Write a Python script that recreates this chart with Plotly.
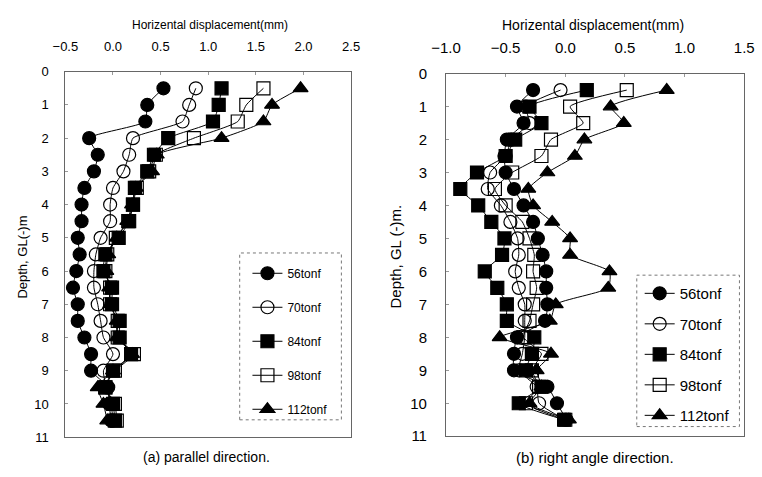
import plotly.graph_objects as go

depth = [0.5, 1.0, 1.5, 2.0, 2.5, 3.0, 3.5, 4.0, 4.5, 5.0, 5.5, 6.0, 6.5, 7.0, 7.5, 8.0, 8.5, 9.0, 9.5, 10.0, 10.5]

series_names = ["56tonf", "70tonf", "84tonf", "98tonf", "112tonf"]

# (a) parallel direction
par_56 = [0.53, 0.36, 0.34, -0.25, -0.16, -0.20, -0.30, -0.33, -0.33, -0.37, -0.35, -0.385, -0.42, -0.37, -0.37, -0.30, -0.23, -0.23, -0.05, -0.04, -0.02]
par_70 = [0.87, 0.80, 0.73, 0.21, 0.17, 0.11, 0.00, -0.03, -0.03, -0.13, -0.18, -0.20, -0.20, -0.16, -0.13, -0.10, 0.00, -0.10, -0.07, -0.02, 0.00]
par_84 = [1.14, 1.11, 1.05, 0.58, 0.43, 0.36, 0.23, 0.21, 0.17, 0.06, -0.08, -0.10, -0.01, -0.01, 0.07, 0.07, 0.19, 0.00, -0.08, 0.00, 0.02]
par_98 = [1.58, 1.40, 1.31, 0.85, 0.45, 0.38, 0.25, 0.21, 0.16, 0.03, -0.06, -0.08, -0.03, -0.03, 0.05, 0.05, 0.22, 0.02, -0.08, 0.02, 0.04]
par_112 = [1.97, 1.67, 1.58, 1.14, 0.46, 0.41, 0.24, 0.20, 0.15, 0.04, -0.05, -0.07, -0.04, -0.03, 0.04, 0.04, 0.20, 0.00, -0.16, -0.10, -0.06]

# (b) right angle direction
rig_56 = [-0.27, -0.405, -0.35, -0.49, -0.51, -0.50, -0.43, -0.35, -0.27, -0.23, -0.19, -0.16, -0.16, -0.15, -0.17, -0.405, -0.43, -0.43, -0.15, -0.07, 0.01]
rig_70 = [-0.04, -0.33, -0.30, -0.45, -0.50, -0.63, -0.65, -0.54, -0.46, -0.40, -0.39, -0.42, -0.39, -0.34, -0.34, -0.34, -0.36, -0.39, -0.24, -0.22, 0.00]
rig_84 = [0.18, -0.30, -0.20, -0.42, -0.50, -0.74, -0.88, -0.73, -0.62, -0.51, -0.53, -0.675, -0.57, -0.49, -0.49, -0.26, -0.28, -0.33, -0.20, -0.39, -0.01]
rig_98 = [0.515, 0.04, 0.15, -0.12, -0.20, -0.445, -0.59, -0.50, -0.36, -0.30, -0.26, -0.27, -0.24, -0.27, -0.30, -0.35, -0.20, -0.28, -0.22, -0.33, 0.00]
rig_112 = [0.85, 0.38, 0.49, 0.16, 0.08, -0.15, -0.31, -0.27, -0.11, 0.04, 0.04, 0.37, 0.36, -0.08, -0.13, -0.55, -0.12, -0.24, -0.20, -0.30, 0.03]

x_ticks_a = [-0.5, 0.0, 0.5, 1.0, 1.5, 2.0, 2.5]
x_ticks_b = [-1.0, -0.5, 0.0, 0.5, 1.0, 1.5]
y_ticks = list(range(0, 12))

par_data = [par_56, par_70, par_84, par_98, par_112]
rig_data = [rig_56, rig_70, rig_84, rig_98, rig_112]
symbols = ["circle", "circle-open", "square", "square-open", "triangle-up"]

FONT = "Liberation Sans, Arial, sans-serif"
W, H = 762, 477

def px(x):
    return x / W

def py(y):
    return 1 - y / H

fig = go.Figure()

for i, name in enumerate(series_names):
    fig.add_trace(go.Scatter(
        x=par_data[i], y=depth, name=name, mode="lines+markers",
        xaxis="x", yaxis="y", legend="legend", legendgroup="a" + name,
        line=dict(color="black", width=1, shape="spline", smoothing=0.5),
        marker=dict(symbol=symbols[i], size=13, color="black",
                    line=dict(color="black", width=1.2)),
    ))
for i, name in enumerate(series_names):
    fig.add_trace(go.Scatter(
        x=rig_data[i], y=depth, name=name, mode="lines+markers",
        xaxis="x2", yaxis="y2", legend="legend2", legendgroup="b" + name,
        line=dict(color="black", width=1, shape="spline", smoothing=0.5),
        marker=dict(symbol=symbols[i], size=13, color="black",
                    line=dict(color="black", width=1.2)),
    ))

axis_common = dict(showline=True, mirror=True, linecolor="#666", linewidth=1,
                   showgrid=False, zeroline=False, ticks="inside", ticklen=3,
                   tickcolor="#999")

fig.update_layout(
    width=W, height=H,
    margin=dict(l=0, r=0, t=0, b=0),
    paper_bgcolor="white", plot_bgcolor="white",
    font=dict(family=FONT, color="black"),
    xaxis=dict(domain=[px(52), px(347)], range=[-0.5, 2.5], side="top",
               tickvals=x_ticks_a, tickformat=".1f", anchor="y",
               tickfont=dict(size=13), ticklabelstandoff=14, **axis_common),
    yaxis=dict(domain=[py(444), py(65)], range=[11, 0], tickvals=y_ticks,
               anchor="x", tickfont=dict(size=13), ticklabelstandoff=13,
               **axis_common),
    xaxis2=dict(domain=[px(445), px(753)], range=[-1.0, 1.5], side="top",
                tickvals=x_ticks_b, tickformat=".1f", anchor="y2",
                tickfont=dict(size=15), ticklabelstandoff=14, **axis_common),
    yaxis2=dict(domain=[py(443), py(67)], range=[11, 0], tickvals=y_ticks,
                anchor="x2", tickfont=dict(size=15), ticklabelstandoff=15,
                **axis_common),
    legend=dict(x=px(240), y=py(259), xanchor="left", yanchor="top",
                bgcolor="rgba(0,0,0,0)", borderwidth=0,
                font=dict(size=12), tracegroupgap=15, itemwidth=30),
    legend2=dict(x=px(645), y=py(278), xanchor="left", yanchor="top",
                 bgcolor="rgba(0,0,0,0)", borderwidth=0,
                 font=dict(size=15), tracegroupgap=8, itemwidth=30),
    showlegend=True,
)

# legend boxes (dotted)
fig.add_shape(type="rect", xref="paper", yref="paper",
              x0=px(232), x1=px(337), y0=py(426), y1=py(253),
              line=dict(color="#777", width=1, dash="dot"), fillcolor="rgba(0,0,0,0)")
fig.add_shape(type="rect", xref="paper", yref="paper",
              x0=px(642), x1=px(748), y0=py(433), y1=py(276),
              line=dict(color="#777", width=1, dash="dot"), fillcolor="rgba(0,0,0,0)")

annotations = [
    dict(text="Horizental displacement(mm)", x=px(201), y=py(17), font=dict(size=12)),
    dict(text="Horizental displacement(mm)", x=px(597), y=py(17), font=dict(size=14)),
    dict(text="Depth, GL(-)m", x=px(8), y=py(257), textangle=-90, font=dict(size=13)),
    dict(text="Depth, GL (-)m.", x=px(393), y=py(257), textangle=-90, font=dict(size=15)),
    dict(text="(a) parallel direction.", x=px(198), y=py(465), font=dict(size=14)),
    dict(text="(b) right angle direction.", x=px(599), y=py(465), font=dict(size=15)),
]
for a in annotations:
    fig.add_annotation(xref="paper", yref="paper", showarrow=False,
                       xanchor="center", yanchor="middle", **a)

fig.write_html("out.html")
